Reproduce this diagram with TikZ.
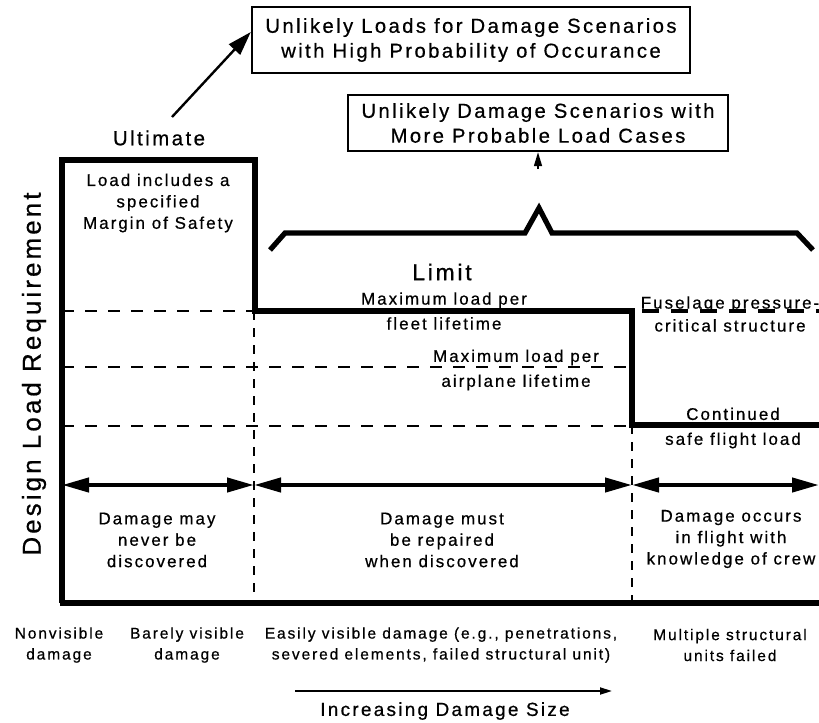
\documentclass[tikz,border=0pt]{standalone}
\usepackage{fontspec}
\setmainfont{Liberation Sans}[LetterSpace=12,FakeBold=0.6]
\usetikzlibrary{arrows.meta}
\newcommand{\fsz}[2]{\fontsize{#1}{#2}\selectfont}

\begin{document}
\begin{tikzpicture}[x=1bp,y=-1bp,
  outline/.style={line width=5.2bp,line join=miter},
  guide/.style={line width=2.6bp,dash pattern=on 12bp off 11bp},
  vguide/.style={line width=2.6bp,dash pattern=on 9bp off 8bp},
  spanarrow/.style={line width=4.2bp,{Triangle[length=27bp,width=14bp]}-{Triangle[length=27bp,width=14bp]}},
  lbl/.style={font=\fsz{17}{21.5},align=center,inner sep=0pt},
  foot/.style={font=\fsz{15.6}{21},align=center,inner sep=0pt},
  note/.style={draw,line width=2.4bp,font=\fsz{20.3}{25},align=center,inner sep=0pt}
]
\useasboundingbox (0,0) rectangle (819,723);

% ---------------- boxes on top ----------------
\node[note,minimum width=438bp,minimum height=66bp] (loadsbox) at (471,40)
  {Unlikely Loads for Damage Scenarios\\with High Probability of Occurance};
\node[note,minimum width=380bp,minimum height=56bp] (scenbox) at (538,123)
  {Unlikely Damage Scenarios with\\More Probable Load Cases};
\coordinate (ulttail) at (172,117);
\coordinate (scentail) at (538,169);
\draw[line width=2.4bp,-{Triangle[length=24bp,width=15bp]}] (ulttail) -- ([yshift=8bp]loadsbox.west);
\draw[line width=1.5bp,-{Triangle[length=14bp,width=8bp]}] (scentail) -- (scenbox.south);

% brace over the limit region
\draw[outline] (270,250) -- (285,233) -- (525,233) -- (539,208) -- (552,233)
  -- (797,233) -- (813,250);

% ---------------- load levels ----------------
\foreach \y/\xe in {311/255,367/632,426/632}{
  \draw[guide] (62,\y) -- (\xe,\y);
}
\draw[vguide] (254,311) -- (254,603);
\draw[vguide] (632,425) -- (632,603);
\draw[outline] (62,603) -- (62,160) -- (255,160) -- (255,311) -- (632,311)
  -- (632,425) -- (819,425);
\draw[outline] (60,603) -- (819,603);
\draw[line width=4.5bp,dash pattern=on 17bp off 12bp] (642,311) -- (819,311);

% ---------------- labels ----------------
\node[rotate=90,font=\fsz{26}{26},inner sep=0pt] (ylabel) at (34,374) {Design Load Requirement};
\node[font=\fsz{20.5}{20.5},inner sep=0pt] (ultimate) at (159,138) {Ultimate};
\node[lbl] (margin) at (158,203) {Load includes a\\specified\\Margin of Safety};
\node[font=\fsz{23}{23},inner sep=0pt] (limit) at (442,272) {Limit};
\node[lbl,font=\fsz{17}{25}] (fleet) at (444,311) {Maximum load per\\fleet lifetime};
\node[lbl,font=\fsz{17}{25}] (airplane) at (516,370) {Maximum load per\\airplane lifetime};
\node[lbl,font=\fsz{17}{23}] (fuselage) at (730,314) {Fuselage pressure-\\critical structure};
\node[lbl,font=\fsz{17}{25}] (continued) at (733,428) {Continued\\safe flight load};

% ---------------- damage categories ----------------
\foreach \n/\x in {a0/62,a1/254,a2/632,a3/819}{
  \coordinate (\n) at (\x,485);
}
\draw[spanarrow] (a0) -- (a1);
\draw[spanarrow] (a1) -- (a2);
\draw[spanarrow] (a2) -- (a3);
\node[lbl] (never) at (157,540) {Damage may\\never be\\discovered};
\node[lbl] (repair) at (442,540) {Damage must\\be repaired\\when discovered};
\node[lbl] (inflight) at (731,539) {Damage occurs\\in flight with\\knowledge of crew};

\node[foot] (nonvis) at (59,645) {Nonvisible\\damage};
\node[foot] (barely) at (187,645) {Barely visible\\damage};
\node[foot] (easily) at (441,645) {Easily visible damage (e.g., penetrations,\\severed elements, failed structural unit)};
\node[foot] (multiple) at (730,645) {Multiple structural\\units failed};

\coordinate (incrtail) at (295,691);
\coordinate (incrhead) at (612,691);
\draw[line width=1.8bp,-{Triangle[length=12bp,width=7bp]}] (incrtail) -- (incrhead);
\node[font=\fsz{19}{19},inner sep=0pt] (incr) at (445,711) {Increasing Damage Size};

\end{tikzpicture}
\end{document}
